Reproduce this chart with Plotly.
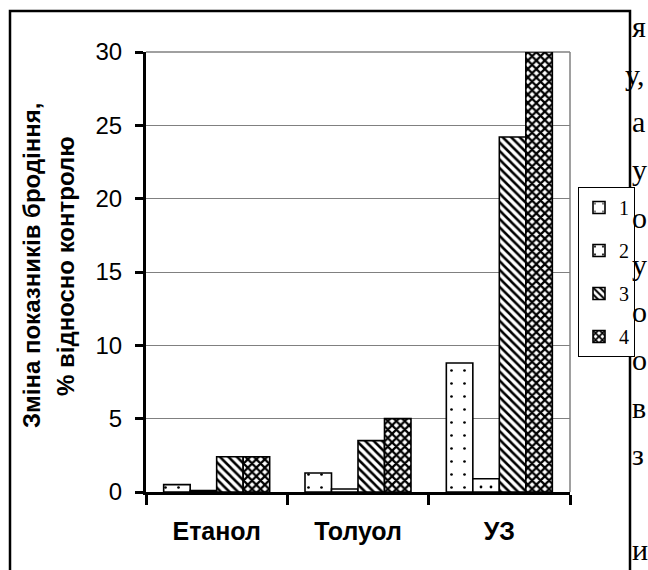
import plotly.graph_objects as go

# Fermentation indicator change, % relative to control
categories = ["Етанол", "Толуол", "УЗ"]
series_names = ["1", "2", "3", "4"]
series_1 = [0.5, 1.3, 8.8]
series_2 = [0.1, 0.2, 0.9]
series_3 = [2.4, 3.5, 24.2]
series_4 = [2.4, 5.0, 30.0]
y_ticks = [0, 5, 10, 15, 20, 25, 30]

y_title_lines = ["Зміна показників бродіння,", "% відносно контролю"]

# fragments of the surrounding page text at the right edge
side_text = ["я", "у,", "а", "у", "о", "у", "о", "о", "в", "з", "", "и"]

W, H = 648, 570
L, R, T, B = 146, 78, 52, 78
PW, PH = W - L - R, H - T - B


def px_x(x):
    return (x - L) / PW


def px_y(y):
    return (H - B - y) / PH


patterns = [
    dict(shape=".", size=13, solidity=0.035),
    dict(shape=".", size=10, solidity=0.06),
    dict(shape="\\", size=6, solidity=0.42),
    dict(shape="x", size=6, solidity=0.6),
]
values = [series_1, series_2, series_3, series_4]

fig = go.Figure()
for name, vals, pat in zip(series_names, values, patterns):
    fig.add_trace(go.Bar(
        x=categories, y=vals, name=name, legendgroup=name,
        marker=dict(
            color="white",
            line=dict(color="black", width=1.6),
            pattern=dict(fgcolor="black", bgcolor="white", fillmode="replace", **pat),
        ),
    ))

fig.update_layout(
    width=W, height=H,
    margin=dict(l=L, r=R, t=T, b=B),
    paper_bgcolor="white", plot_bgcolor="white",
    barmode="group", bargap=0.25, bargroupgap=0,
    font=dict(family="Arial, Liberation Sans, sans-serif", color="black"),
    showlegend=True,
    legend=dict(
        x=px_x(578), y=px_y(187), xanchor="left", yanchor="top",
        bgcolor="white", bordercolor="black", borderwidth=1,
        font=dict(family="Liberation Serif, Times New Roman, serif", size=20, color="black"),
        traceorder="grouped", tracegroupgap=14, itemwidth=30,
    ),
    xaxis=dict(
        showline=True, linecolor="black", linewidth=3,
        ticks="outside", tickson="boundaries", ticklen=10, tickwidth=3, tickcolor="black",
        tickfont=dict(family="Arial, Liberation Sans, sans-serif", size=25, color="black", weight="bold"),
        ticklabelstandoff=15,
        showgrid=False,
    ),
    yaxis=dict(
        range=[0, 30], tickvals=y_ticks,
        showline=True, linecolor="black", linewidth=3,
        ticks="outside", ticklen=8, tickwidth=3, tickcolor="black",
        tickfont=dict(family="Arial, Liberation Sans, sans-serif", size=24, color="black"),
        ticklabelstandoff=8,
        showgrid=True, gridcolor="#808080", gridwidth=1.3,
        zeroline=False,
    ),
)

# grey plot-area border on the right side and top
fig.add_shape(type="line", xref="paper", yref="paper", x0=1, x1=1, y0=0, y1=1,
              line=dict(color="#808080", width=1.5), layer="below")
fig.add_shape(type="line", xref="paper", yref="paper", x0=0, x1=1, y0=1, y1=1,
              line=dict(color="#808080", width=1.5), layer="below")

# outer chart frame
fig.add_shape(type="rect", xref="paper", yref="paper",
              x0=px_x(10), x1=px_x(630), y0=px_y(600), y1=px_y(11),
              line=dict(color="black", width=2.5), layer="above")

# y-axis title, one rotated annotation per line
for line_text, cx in zip(y_title_lines, [31, 65]):
    fig.add_annotation(
        text=line_text, xref="paper", yref="paper",
        x=px_x(cx), y=px_y(266), xanchor="center", yanchor="middle",
        textangle=-90, showarrow=False,
        font=dict(family="Arial, Liberation Sans, sans-serif", size=24, color="black", weight="bold"),
    )

# page text fragments on the right margin
for i, t in enumerate(side_text):
    if not t:
        continue
    wide = len(t) > 1
    fig.add_annotation(
        text=t, xref="paper", yref="paper",
        x=px_x(647 if wide else 630), y=px_y(27 + 47.5 * i),
        xanchor="right" if wide else "left", yanchor="middle",
        showarrow=False,
        font=dict(family="Liberation Serif, Times New Roman, serif", size=30, color="black"),
    )

fig.write_html("out.html")
